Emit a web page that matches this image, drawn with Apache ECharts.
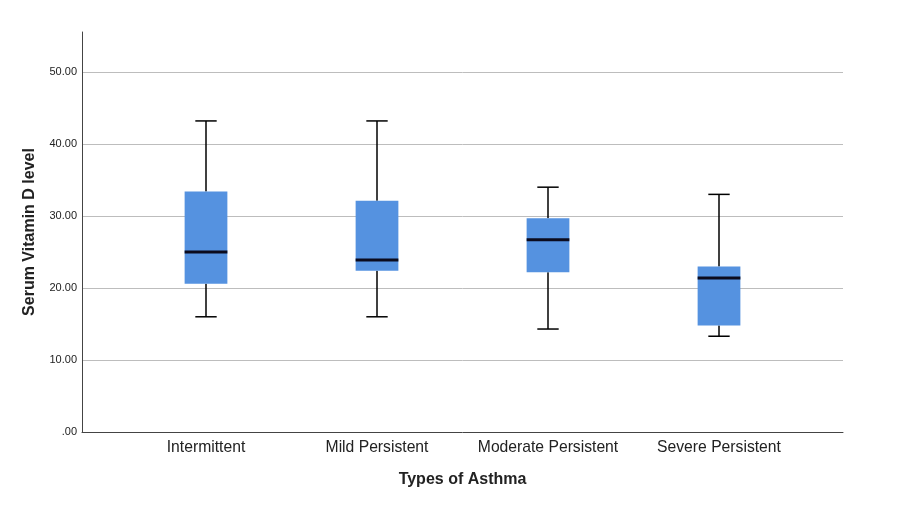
<!DOCTYPE html>
<html>
<head>
<meta charset="utf-8">
<script src="https://cdn.jsdelivr.net/npm/echarts@6/dist/echarts.min.js"></script>
<style>
  html, body { margin: 0; padding: 0; background: #fff; }
  #chart { width: 911px; height: 529px; }
</style>
</head>
<body>
<div id="chart"></div>
<script>
const categories = ['Intermittent', 'Mild Persistent', 'Moderate Persistent', 'Severe Persistent']
// [low whisker, Q1, median, Q3, high whisker]
const lowWhisker = [16.0, 16.0, 14.3, 13.3]
const q1 = [20.6, 22.4, 22.2, 14.8]
const median = [25.0, 23.9, 26.7, 21.4]
const q3 = [33.4, 32.1, 29.7, 23.0]
const highWhisker = [43.2, 43.2, 34.0, 33.0]
const yTicks = [0, 10, 20, 30, 40, 50]

const boxData = categories.map((c, i) => [i, lowWhisker[i], q1[i], median[i], q3[i], highWhisker[i]])

const fontColor = '#222'
const boxColor = '#5592e0'
const yMax = 55.55

const chart = echarts.init(document.getElementById('chart'), null, { renderer: 'canvas' })

const option = {
  backgroundColor: '#fff',
  animation: false,
  grid: [
    { left: 82, right: 68, top: 32, bottom: 97 },
    { left: 120.5, right: 106.5, top: 32, bottom: 97 }
  ],
  xAxis: [{
    gridIndex: 0,
    type: 'category',
    data: categories,
    name: 'Types of Asthma',
    nameLocation: 'middle',
    nameGap: 40,
    nameTextStyle: { fontSize: 16, fontWeight: 'bold', color: fontColor, fontFamily: 'Liberation Sans' },
    axisLine: { lineStyle: { color: '#444', width: 1 } },
    axisTick: { show: false },
    axisLabel: { show: false }
  }, {
    gridIndex: 1,
    type: 'category',
    data: categories,
    axisLine: { show: false },
    axisTick: { show: false },
    axisLabel: { interval: 0, margin: 8, fontSize: 15.7, color: fontColor, fontFamily: 'Liberation Sans' }
  }],
  yAxis: [{
    gridIndex: 0,
    type: 'value',
    min: 0,
    max: yMax,
    interval: 10,
    name: 'Serum Vitamin D level',
    nameLocation: 'middle',
    nameGap: 44,
    nameTextStyle: { fontSize: 16, fontWeight: 'bold', color: fontColor, fontFamily: 'Liberation Sans' },
    axisLine: { show: true, lineStyle: { color: '#444', width: 1 } },
    axisTick: { show: false },
    axisLabel: {
      margin: 5,
      fontSize: 11,
      color: fontColor,
      fontFamily: 'Liberation Sans',
      showMaxLabel: false,
      formatter: v => yTicks.indexOf(v) < 0 ? '' : (v === 0 ? '.00' : v.toFixed(2))
    },
    splitLine: { show: true, showMinLine: false, showMaxLine: false, lineStyle: { color: '#bdbdbd', width: 1 } }
  }, {
    gridIndex: 1,
    type: 'value',
    min: 0,
    max: yMax,
    show: false
  }],
  series: [{
    type: 'custom',
    xAxisIndex: 1,
    yAxisIndex: 1,
    data: boxData,
    encode: { x: 0, y: [1, 2, 3, 4, 5] },
    renderItem (params, api) {
      const x = api.value(0)
      const pLow = api.coord([x, api.value(1)])
      const pQ1 = api.coord([x, api.value(2)])
      const pMed = api.coord([x, api.value(3)])
      const pQ3 = api.coord([x, api.value(4)])
      const pHigh = api.coord([x, api.value(5)])
      const band = api.size([1, 0])[0]
      const boxW = band * 0.25
      const capW = boxW * 0.5
      const cx = pLow[0]
      const lineStyle = { stroke: '#000', lineWidth: 1.5 }
      return {
        type: 'group',
        children: [
          { type: 'line', shape: { x1: cx, y1: pHigh[1], x2: cx, y2: pQ3[1] }, style: lineStyle },
          { type: 'line', shape: { x1: cx, y1: pQ1[1], x2: cx, y2: pLow[1] }, style: lineStyle },
          { type: 'line', shape: { x1: cx - capW / 2, y1: pHigh[1], x2: cx + capW / 2, y2: pHigh[1] }, style: lineStyle },
          { type: 'line', shape: { x1: cx - capW / 2, y1: pLow[1], x2: cx + capW / 2, y2: pLow[1] }, style: lineStyle },
          { type: 'rect', shape: { x: cx - boxW / 2, y: pQ3[1], width: boxW, height: pQ1[1] - pQ3[1] }, style: { fill: boxColor } },
          { type: 'line', shape: { x1: cx - boxW / 2, y1: pMed[1], x2: cx + boxW / 2, y2: pMed[1] }, style: { stroke: '#0b0b1e', lineWidth: 3 } }
        ]
      }
    }
  }]
}

chart.setOption(option)
</script>
</body>
</html>
